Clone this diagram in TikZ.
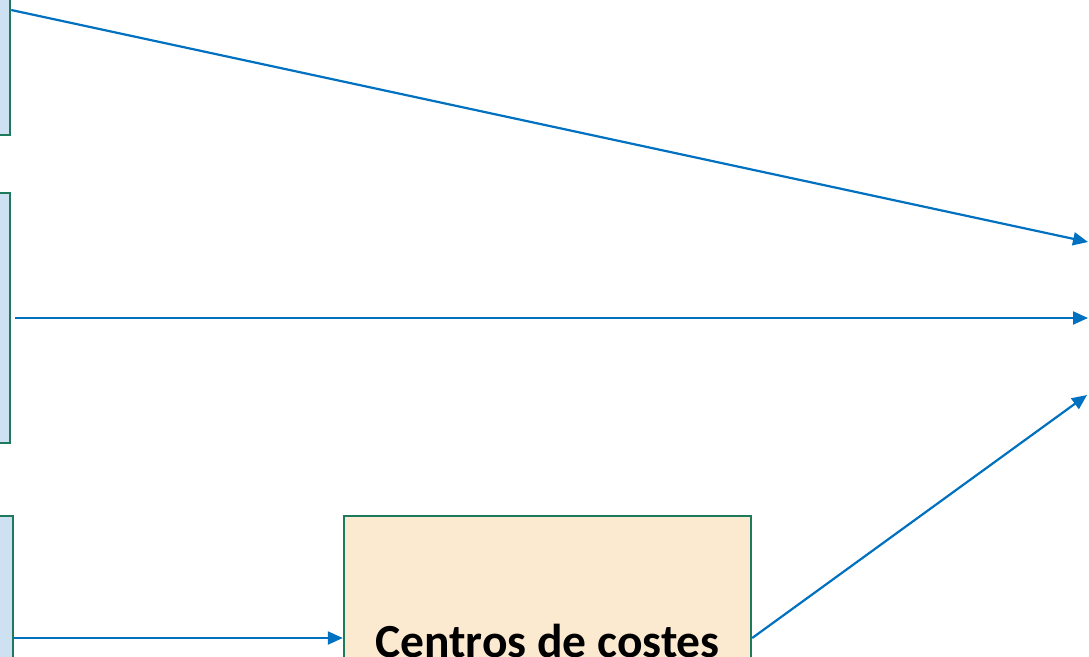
\documentclass[tikz,border=0pt]{standalone}
\usepackage{fontspec}
\setmainfont{Carlito}
\usepackage{tikz}
\usetikzlibrary{arrows.meta}
\definecolor{boxgreen}{RGB}{31,122,92}
\definecolor{paleblue}{RGB}{205,225,243}
\definecolor{paleorange}{RGB}{251,233,208}
\definecolor{flowblue}{RGB}{0,112,192}

\begin{document}
\begin{tikzpicture}[x=1pt,y=-1pt,
  srcbox/.style={draw=boxgreen,fill=paleblue,line width=2.4pt,minimum width=300pt,inner sep=0pt},
  flow/.style={-{Triangle[length=15pt,width=13pt]},draw=flowblue,line width=2.2pt}]
  \useasboundingbox (0,0) rectangle (1089,656);
  \clip (0,0) rectangle (1089,656);
  \draw (-140,10) node[srcbox,minimum height=250pt] (directos) {};
  \draw (-140,318) node[srcbox,minimum height=250pt] (indirectos) {};
  \draw (-137,638) node[srcbox,minimum height=244pt] (generales) {};
  \draw (547.5,638) node[draw=boxgreen,fill=paleorange,line width=2.4pt,minimum width=407pt,minimum height=244pt,inner sep=0pt] (centros) {};
  \draw (547.5,657) node[anchor=base,font=\fontsize{47.5}{52}\selectfont\bfseries] (centroslbl) {Centros de costes};

  \coordinate (dest1) at (1088,242);
  \coordinate (dest2) at (1088,318);
  \coordinate (dest3) at (1087,395);

    \draw[flow] (directos.east) -- (dest1);
    \draw[flow,shorten <=4pt] (indirectos.east) -- (dest2);
    \draw[flow] (generales.east) -- (centros.west);
    \draw[flow] (centros.east) -- (dest3);

\end{tikzpicture}
\end{document}
